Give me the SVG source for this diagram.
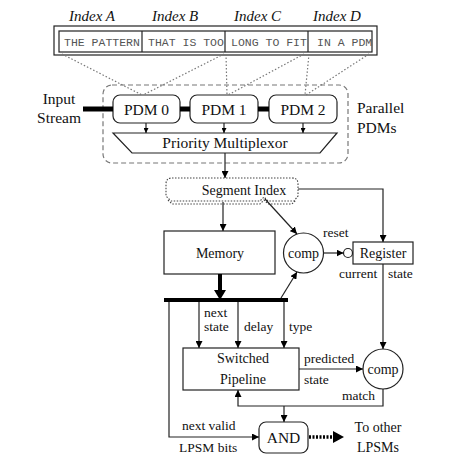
<svg xmlns="http://www.w3.org/2000/svg" width="454" height="467" viewBox="0 0 454 467">
<style>
.t{font-family:"Liberation Serif","Times New Roman",serif;fill:#111}
.big{font-size:15.5px}
.med{font-size:14px}
.sm{font-size:13.5px}
.it{font-style:italic;font-size:15px}
.mono{font-family:"Liberation Mono","Courier New",monospace;font-size:11.5px;fill:#555}
.box{fill:#fff;stroke:#222;stroke-width:1.2}
.ln{fill:none;stroke:#222;stroke-width:1.2}
.dot{fill:none;stroke:#777;stroke-width:1.2;stroke-dasharray:1.5 2}
.thick{fill:none;stroke:#000;stroke-width:5}
</style>
<defs>
<marker id="ah" viewBox="0 0 10 10" refX="10" refY="5" markerWidth="7" markerHeight="7" markerUnits="userSpaceOnUse" orient="auto"><path d="M0,0 L10,5 L0,10 Z" fill="#000"/></marker>
<marker id="ahs" viewBox="0 0 10 10" refX="10" refY="5" markerWidth="5" markerHeight="5" markerUnits="userSpaceOnUse" orient="auto"><path d="M0,0 L10,5 L0,10 Z" fill="#000"/></marker>
<marker id="ahb" viewBox="0 0 10 10" refX="10" refY="5" markerWidth="11" markerHeight="11" markerUnits="userSpaceOnUse" orient="auto"><path d="M0,0 L10,5 L0,10 Z" fill="#000"/></marker>
</defs>

<g id="pattern">
<rect x="54" y="26" width="323" height="29" fill="#fff" stroke="#222" stroke-width="1.2"/>
<rect x="59" y="31" width="313" height="21" fill="none" stroke="#222" stroke-width="1.2"/>
<line x1="142" y1="31" x2="142" y2="52" stroke="#222" stroke-width="1.2"/>
<line x1="225" y1="31" x2="225" y2="52" stroke="#222" stroke-width="1.2"/>
<line x1="308" y1="31" x2="308" y2="52" stroke="#222" stroke-width="1.2"/>
<text class="mono" x="64" y="46">THE PATTERN</text>
<text class="mono" x="148" y="46">THAT IS TOO</text>
<text class="mono" x="231" y="46">LONG TO FIT</text>
<text class="mono" x="317" y="46">IN A PDM</text>
<text class="t it" x="69" y="21">Index A</text>
<text class="t it" x="152" y="21">Index B</text>
<text class="t it" x="234" y="21">Index C</text>
<text class="t it" x="313" y="21">Index D</text>
</g>

<g id="parallel">
<rect x="103" y="85" width="245" height="78" rx="9" fill="none" stroke="#777" stroke-width="1.2" stroke-dasharray="5 3"/>
<text class="t big" x="357" y="113">Parallel</text>
<text class="t big" x="357" y="133">PDMs</text>
</g>

<g id="input">
<text class="t big" x="59" y="104" text-anchor="middle">Input</text>
<text class="t big" x="59" y="123" text-anchor="middle">Stream</text>
</g>

<g id="pdm0"><rect class="box" x="113" y="95" width="67" height="28" rx="7"/><text class="t big" x="146.5" y="115" text-anchor="middle">PDM 0</text></g>
<g id="pdm1"><rect class="box" x="190" y="95" width="68" height="28" rx="7"/><text class="t big" x="224" y="115" text-anchor="middle">PDM 1</text></g>
<g id="pdm2"><rect class="box" x="269" y="95" width="68" height="28" rx="7"/><text class="t big" x="303" y="115" text-anchor="middle">PDM 2</text></g>

<g id="mux">
<path d="M113,133 L337,133 L320,153 L132,153 Z" class="box"/>
<text class="t big" x="225" y="148" text-anchor="middle">Priority Multiplexor</text>
</g>

<g id="segment">
<path d="M172,178 H292 Q298,178 298,184 V196 L294,201 H268 L264,197 L260,201 H171 L166,196 V184 Q166,178 172,178 Z" fill="#fff" stroke="#444" stroke-width="1.1" stroke-dasharray="1.5 1.5"/>
<path d="M168,200 L172,204 H260 L264,200 L268,204 H292 L296,200" fill="none" stroke="#444" stroke-width="1.1" stroke-dasharray="1.5 1.5"/>
<text class="t med" x="244" y="195" text-anchor="middle">Segment Index</text>
</g>

<g id="memory"><rect class="box" x="164" y="231" width="111" height="43"/><text class="t med" x="220" y="258" text-anchor="middle">Memory</text></g>

<g id="comp1"><circle class="box" cx="303.5" cy="253" r="20"/><text class="t med" x="303.5" y="258" text-anchor="middle">comp</text></g>

<g id="register">
<circle cx="348" cy="253" r="4.5" fill="#fff" stroke="#222" stroke-width="1.2"/>
<rect class="box" x="353" y="242" width="60" height="22"/>
<text class="t med" x="383" y="258" text-anchor="middle">Register</text>
</g>

<g id="pipeline"><rect class="box" x="183" y="348" width="116" height="42"/>
<text class="t med" x="243" y="363" text-anchor="middle">Switched</text>
<text class="t med" x="243" y="384" text-anchor="middle">Pipeline</text></g>

<g id="comp2"><circle class="box" cx="383" cy="369" r="20"/><text class="t med" x="383" y="374" text-anchor="middle">comp</text></g>

<g id="and"><rect class="box" x="259" y="422" width="49" height="31" rx="7"/><text class="t big" x="283.5" y="443" text-anchor="middle">AND</text></g>

<g id="connectors">
<!-- dotted pattern mapping -->
<line class="dot" x1="62" y1="54" x2="142" y2="95"/>
<line class="dot" x1="224" y1="54" x2="143" y2="95"/>
<line class="dot" x1="226" y1="54" x2="227" y2="95"/>
<line class="dot" x1="304" y1="54" x2="228" y2="95"/>
<line class="dot" x1="309" y1="54" x2="305" y2="95"/>
<line class="dot" x1="369" y1="54" x2="306" y2="95"/>
<!-- input stream thick -->
<line class="thick" x1="83" y1="109" x2="113" y2="109"/>
<line class="thick" x1="180" y1="109" x2="190" y2="109"/>
<line class="thick" x1="258" y1="109" x2="269" y2="109"/>
<!-- pdm to mux -->
<line class="ln" x1="146" y1="123" x2="146" y2="133" marker-end="url(#ahs)"/>
<line class="ln" x1="224" y1="123" x2="224" y2="133" marker-end="url(#ahs)"/>
<line class="ln" x1="303" y1="123" x2="303" y2="133" marker-end="url(#ahs)"/>
<!-- mux to segment -->
<line class="ln" x1="225" y1="153" x2="225" y2="178" marker-end="url(#ah)"/>
<!-- segment to memory -->
<line class="ln" x1="223" y1="202" x2="223" y2="231" marker-end="url(#ah)"/>
<!-- segment to comp1 -->
<line class="ln" x1="265" y1="199" x2="297" y2="234" marker-end="url(#ah)"/>
<!-- segment to register -->
<path class="ln" d="M298,189 H383 V242" marker-end="url(#ah)"/>
<!-- comp1 to reset bubble -->
<line class="ln" x1="323.5" y1="253" x2="343.5" y2="253" marker-end="url(#ah)"/>
<!-- memory thick to bus -->
<line x1="220" y1="274" x2="220" y2="292" stroke="#000" stroke-width="4"/>
<path d="M214,290 L226,290 L220,300 Z" fill="#000"/>
<!-- bus -->
<line x1="164" y1="300" x2="288" y2="300" stroke="#000" stroke-width="4"/>
<!-- bus to comp1 -->
<line class="ln" x1="281" y1="298" x2="297" y2="272" marker-end="url(#ah)"/>
<!-- bus to pipeline -->
<line class="ln" x1="199" y1="302" x2="199" y2="348" marker-end="url(#ah)"/>
<line class="ln" x1="238" y1="302" x2="238" y2="348" marker-end="url(#ah)"/>
<line class="ln" x1="284" y1="302" x2="284" y2="348" marker-end="url(#ah)"/>
<!-- register to comp2 -->
<line class="ln" x1="383" y1="264" x2="383" y2="349" marker-end="url(#ah)"/>
<!-- pipeline to comp2 -->
<line class="ln" x1="299" y1="369" x2="363" y2="369" marker-end="url(#ah)"/>
<!-- match feedback -->
<path class="ln" d="M383,389 V406 H238 V390" marker-end="url(#ah)"/>
<line class="ln" x1="284" y1="406" x2="284" y2="422" marker-end="url(#ah)"/>
<!-- bus to AND -->
<path class="ln" d="M169,302 V437 H259" marker-end="url(#ah)"/>
<!-- AND out -->
<line x1="309" y1="437" x2="334" y2="437" stroke="#000" stroke-width="3.5" stroke-dasharray="2 1.5"/>
<path d="M333,431 L344,437 L333,443 Z" fill="#000"/>
</g>

<g id="labels">
<text class="t sm" x="323" y="237">reset</text>
<text class="t sm" x="339" y="278">current</text>
<text class="t sm" x="388" y="278">state</text>
<text class="t sm" x="204" y="317">next</text>
<text class="t sm" x="204" y="331">state</text>
<text class="t sm" x="244" y="331">delay</text>
<text class="t sm" x="289" y="331">type</text>
<text class="t sm" x="304" y="363">predicted</text>
<text class="t sm" x="304" y="384">state</text>
<text class="t sm" x="342" y="400">match</text>
<text class="t sm" x="182" y="430">next valid</text>
<text class="t sm" x="179" y="452">LPSM bits</text>
<text class="t med" x="378" y="432" text-anchor="middle">To other</text>
<text class="t med" x="378" y="452" text-anchor="middle">LPSMs</text>
</g>
</svg>
